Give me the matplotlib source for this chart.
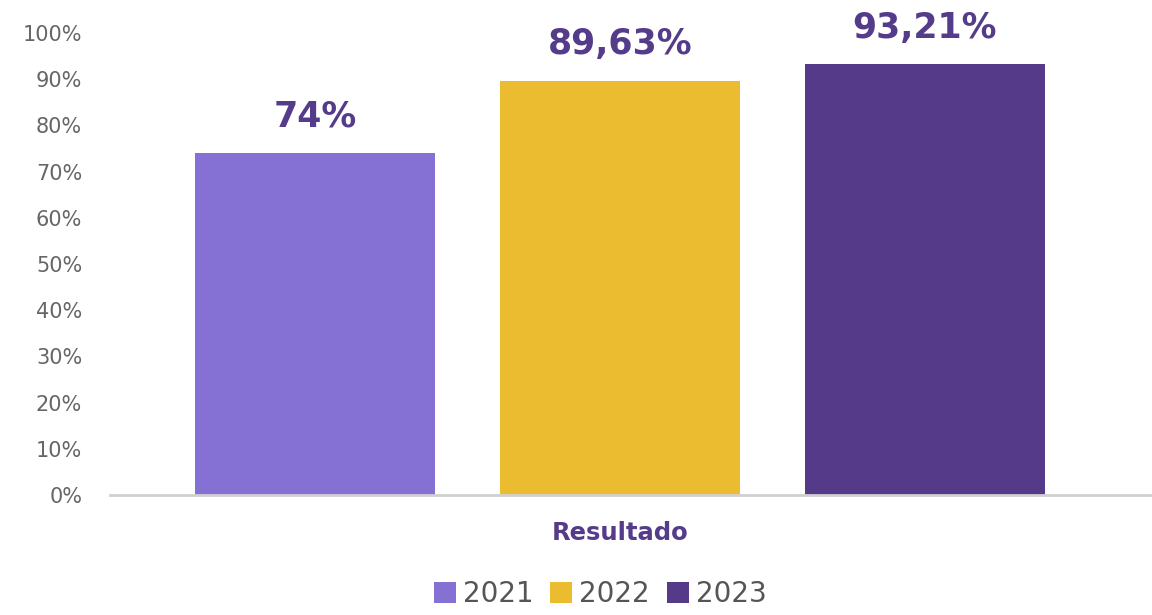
import matplotlib
matplotlib.use('Agg')
import matplotlib.pyplot as plt
from matplotlib.ticker import FuncFormatter

years = ['2021', '2022', '2023']
values = [74.0, 89.63, 93.21]
labels = ['74%', '89,63%', '93,21%']
colors = ['#8570d4', '#ebbc2f', '#553a89']
category = 'Resultado'

fig = plt.figure(figsize=(11.52, 6.15), dpi=100)
ax = fig.add_axes([110/1152, 1-495/615, 1040/1152, 462/615])

offsets = [-0.305, 0.0, 0.305]
for off, v, lab, c, yr in zip(offsets, values, labels, colors, years):
    ax.bar(off, v, width=0.24, color=c, label=yr, zorder=2)
    ax.annotate(lab, (off, v), xytext=(0, 14), textcoords='offset points',
                ha='center', va='bottom', fontsize=25, fontweight='bold',
                family='DejaVu Sans', color='#553c8b')

ax.set_xlim(-0.51, 0.53)
ax.set_ylim(0, 100)
ax.set_yticks(range(0, 101, 10))
ax.yaxis.set_major_formatter(FuncFormatter(lambda y, p: f'{int(y)}%'))
ax.set_xticks([0.0])
ax.set_xticklabels([category])
for t in ax.get_xticklabels():
    t.set_color('#553c8b')
    t.set_fontsize(17.5)
    t.set_family('DejaVu Sans')
    t.set_fontweight('bold')
for t in ax.get_yticklabels():
    t.set_color('#666666')
    t.set_fontsize(15)
    t.set_family('DejaVu Sans')
ax.tick_params(axis='both', length=0)
ax.tick_params(axis='x', pad=19)
ax.tick_params(axis='y', pad=20)

for s in ['top', 'right', 'left']:
    ax.spines[s].set_visible(False)
ax.spines['bottom'].set_color('#d0d0d0')
ax.spines['bottom'].set_linewidth(2)

leg = fig.legend(loc='lower center', bbox_to_anchor=(600/1152, -0.03), ncol=3,
                 frameon=False, handlelength=0.8, handleheight=0.8,
                 handletextpad=0.25, columnspacing=0.6,
                 prop={'family': 'DejaVu Sans', 'size': 20})
for t in leg.get_texts():
    t.set_color('#555555')

fig.savefig('out.png', dpi=100)
